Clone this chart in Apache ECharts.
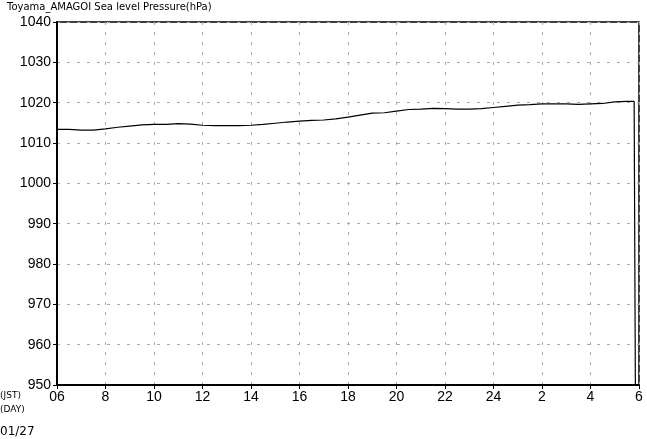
<!DOCTYPE html>
<html><head><meta charset="utf-8">
<script src="https://cdn.jsdelivr.net/npm/echarts@6/dist/echarts.min.js"></script>
<style>html,body{margin:0;padding:0;background:#fff}#c{width:647px;height:439px}</style>
</head><body><div id="c"></div>
<script>
const titleText = 'Toyama_AMAGOI Sea level Pressure(hPa)';
const hours = [0,0.5,1,1.5,2,2.5,3,3.5,4,4.5,5,5.5,6,6.5,7,7.5,8,8.5,9,9.5,10,10.5,11,11.5,12,12.5,13,13.5,14,14.5,15,15.5,16,16.5,17,17.5,18,18.5,19,19.5,20,20.5,21,21.5,22,22.5,23,23.5,23.8,23.85];
const pressure = [1013.4,1013.4,1013.2,1013.2,1013.5,1013.9,1014.2,1014.5,1014.6,1014.6,1014.8,1014.7,1014.4,1014.3,1014.3,1014.3,1014.4,1014.6,1014.9,1015.2,1015.4,1015.6,1015.7,1016.0,1016.4,1016.9,1017.4,1017.5,1017.9,1018.3,1018.4,1018.6,1018.5,1018.4,1018.4,1018.5,1018.8,1019.1,1019.4,1019.5,1019.7,1019.7,1019.7,1019.6,1019.7,1019.8,1020.2,1020.3,1020.3,950];
const xTickLabels = ['06','8','10','12','14','16','18','20','22','24','2','4','6'];
const yMin = 950, yMax = 1040, yStep = 10;
const dayLabel = '01/27';

const font = 'Liberation Sans';
const chart = echarts.init(document.getElementById('c'), null, {renderer:'canvas'});
chart.setOption({
  animation:false,
  backgroundColor:'#fff',
  grid:{left:57,right:8,top:22,bottom:54,show:true,borderColor:'#000',borderWidth:1.5},
  xAxis:{type:'value',min:0,max:24,interval:2,
    axisLine:{show:true,lineStyle:{color:'#000',width:2}},
    axisTick:{show:true,inside:false,length:4,lineStyle:{color:'#000'}},
    axisLabel:{color:'#000',fontFamily:font,fontSize:14,margin:5,
      formatter:(v)=>xTickLabels[Math.round(v/2)]},
    splitLine:{show:true,lineStyle:{color:'#aaa',type:[3,7],width:1}}},
  yAxis:{type:'value',min:yMin,max:yMax,interval:yStep,
    axisLine:{show:true,lineStyle:{color:'#000',width:2}},
    axisTick:{show:true,inside:false,length:4,lineStyle:{color:'#000'}},
    axisLabel:{color:'#000',fontFamily:font,fontSize:14,margin:6,formatter:(v)=>String(v)},
    splitLine:{show:true,lineStyle:{color:'#aaa',type:[3,7],width:1}}},
  series:[{type:'line',data:hours.map((h,i)=>[h,pressure[i]]),
    showSymbol:false,lineStyle:{color:'#000',width:1.2}}],
  graphic:[
    {type:'text',left:7,top:2,style:{text:titleText,fill:'#000',font:'10px "DejaVu Sans"'}},
    {type:'text',left:0,top:391,style:{text:'(JST)',fill:'#000',font:'9px "DejaVu Sans"'}},
    {type:'text',left:0,top:405,style:{text:'(DAY)',fill:'#000',font:'9px "DejaVu Sans"'}},
    {type:'text',left:0,top:426,style:{text:dayLabel,fill:'#000',font:'12px "DejaVu Sans"'}}
  ]
});
</script></body></html>
